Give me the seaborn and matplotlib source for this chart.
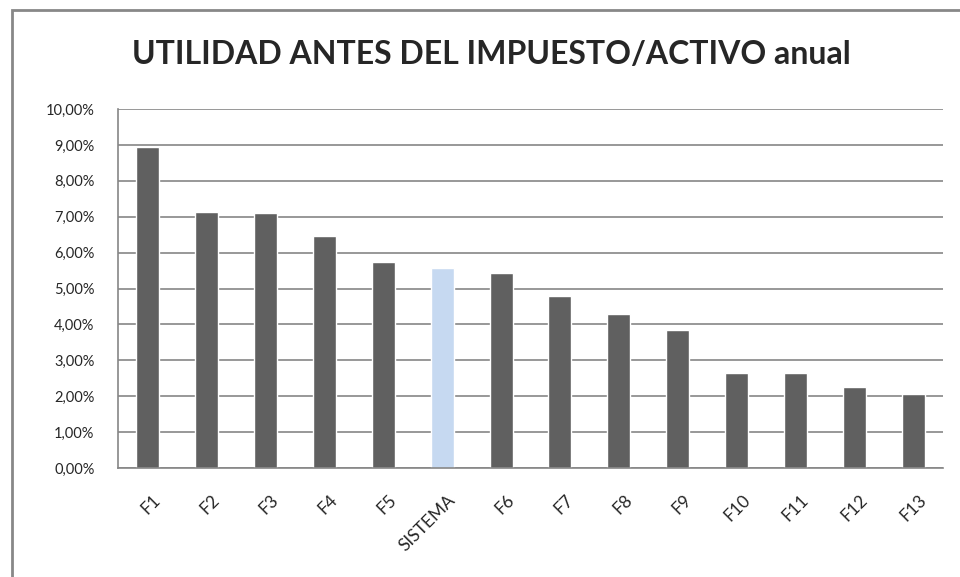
import numpy as np
import pandas as pd
import matplotlib
matplotlib.use('Agg')
import matplotlib.pyplot as plt
import matplotlib.ticker as mticker
from matplotlib.patches import Rectangle
import seaborn as sns

sns.set_style("white")
plt.rcParams['font.family'] = ['Lato', 'DejaVu Sans']

# == data
categories = ['F1', 'F2', 'F3', 'F4', 'F5', 'SISTEMA', 'F6', 'F7',
              'F8', 'F9', 'F10', 'F11', 'F12', 'F13']
values = [8.95, 7.14, 7.10, 6.46, 5.74, 5.57, 5.43, 4.79,
          4.29, 3.84, 2.65, 2.65, 2.26, 2.06]
bar_colors = ['#606060'] * 5 + ['#C6D9F1'] + ['#606060'] * 8

df = pd.DataFrame({'cat': categories, 'val': values})

fig = plt.figure(figsize=(9.6, 5.77), dpi=100)
ax = fig.add_axes([118/960, 1-468/577, (943-118)/960, (468-109)/577])

sns.barplot(data=df, x='cat', y='val', hue='cat', palette=bar_colors,
            width=0.39, saturation=1, legend=False, ax=ax)

grid_c = '#868686'
ax.set_ylim(0, 10)
ax.set_xlim(-0.5, len(categories)-0.5)
ax.set_yticks(np.arange(0, 11, 1))
ax.yaxis.set_major_formatter(mticker.FuncFormatter(lambda v, p: '{:.2f}%'.format(v).replace('.', ',')))
ax.grid(axis='y', color=grid_c, lw=1.2)
ax.set_axisbelow(True)
for s in ['top', 'right']:
    ax.spines[s].set_visible(False)
for s in ['left', 'bottom']:
    ax.spines[s].set_color(grid_c)
    ax.spines[s].set_linewidth(1.2)

# category boundaries as ticks on x
ax.set_xticks(np.arange(-0.5, len(categories), 1), minor=True)
ax.tick_params(axis='x', which='minor', length=5, color=grid_c, width=1.2)
ax.tick_params(axis='x', which='major', length=0, pad=17)
ax.tick_params(axis='y', length=5, color=grid_c, width=1.2, labelsize=10.5, pad=12)
ax.set_xticks(range(len(categories)))
ax.set_xticklabels(categories, rotation=45, ha='right', rotation_mode='anchor', fontsize=12.5)
for lab in ax.get_xticklabels():
    lab.set_transform(lab.get_transform() + matplotlib.transforms.ScaledTranslation(0.05, 0, fig.dpi_scale_trans))
ax.set_xlabel('')
ax.set_ylabel('')

fig.text(491/960, 1-54/577, 'UTILIDAD ANTES DEL IMPUESTO/ACTIVO anual',
         ha='center', va='center', fontsize=23, fontweight='bold')

# outer chart frame (cropped at right and bottom)
fig.patches.append(Rectangle((12/960, -0.1), 1.0, 1-10/577+0.1, transform=fig.transFigure,
                             fill=False, edgecolor='#888888', lw=2.0))

plt.savefig('out.png', dpi=100)
plt.close()
